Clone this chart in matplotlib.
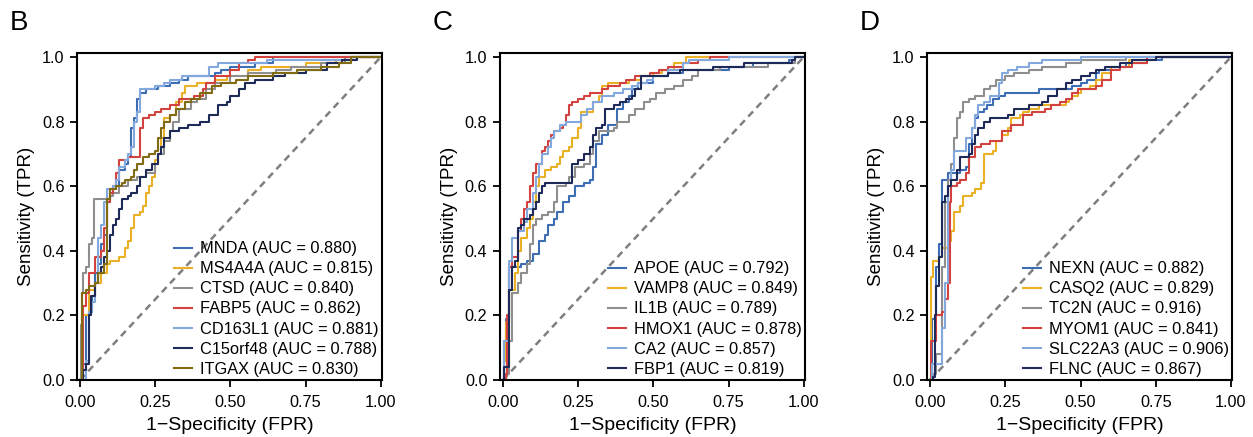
import matplotlib
matplotlib.use("Agg")
import matplotlib.pyplot as plt

plt.rcParams['font.family'] = ['Liberation Sans', 'DejaVu Sans']

# ROC staircases: (fpr, tpr) = level reached at that fpr
# ---- panel B ----
mnda = [(0, 0), (0.01, 0.05), (0.02, 0.2), (0.03, 0.21), (0.04, 0.26), (0.05, 0.33), (0.06, 0.36),
        (0.07, 0.42), (0.08, 0.45), (0.09, 0.55), (0.1, 0.59), (0.12, 0.6), (0.13, 0.65), (0.15, 0.67),
        (0.16, 0.69), (0.17, 0.78), (0.18, 0.81), (0.19, 0.87), (0.2, 0.89), (0.22, 0.9), (0.26, 0.91),
        (0.3, 0.92), (0.33, 0.93), (0.36, 0.94), (0.45, 0.95), (0.47, 0.96), (0.5, 0.97), (0.58, 0.98),
        (0.64, 1.0), (1.0, 1.0)]
ms4a4a = [(0, 0), (0.005, 0.2), (0.03, 0.28), (0.05, 0.3), (0.07, 0.33), (0.09, 0.36), (0.1, 0.37),
          (0.13, 0.38), (0.15, 0.41), (0.16, 0.43), (0.17, 0.47), (0.18, 0.51), (0.2, 0.52), (0.21, 0.54),
          (0.22, 0.58), (0.23, 0.6), (0.24, 0.63), (0.25, 0.68), (0.26, 0.7), (0.27, 0.75), (0.28, 0.81),
          (0.3, 0.82), (0.32, 0.86), (0.34, 0.89), (0.35, 0.91), (0.39, 0.92), (0.45, 0.93), (0.49, 0.94),
          (0.56, 0.96), (0.6, 0.97), (0.75, 0.98), (0.85, 0.99), (0.9, 1.0), (1.0, 1.0)]
ctsd = [(0, 0), (0.002, 0.17), (0.005, 0.27), (0.01, 0.33), (0.02, 0.35), (0.03, 0.42), (0.04, 0.44),
        (0.045, 0.56), (0.1, 0.57), (0.11, 0.58), (0.13, 0.6), (0.16, 0.62), (0.19, 0.63), (0.22, 0.64),
        (0.25, 0.67), (0.26, 0.7), (0.28, 0.74), (0.3, 0.77), (0.31, 0.8), (0.33, 0.84), (0.37, 0.86),
        (0.39, 0.87), (0.42, 0.9), (0.45, 0.92), (0.5, 0.94), (0.56, 0.95), (0.65, 0.96), (0.7, 0.97),
        (0.8, 0.98), (0.88, 1.0), (1.0, 1.0)]
fabp5 = [(0, 0), (0.01, 0.23), (0.02, 0.27), (0.03, 0.33), (0.05, 0.38), (0.07, 0.4), (0.08, 0.47),
         (0.09, 0.55), (0.1, 0.58), (0.11, 0.6), (0.12, 0.64), (0.13, 0.68), (0.16, 0.69), (0.2, 0.78),
         (0.21, 0.81), (0.23, 0.82), (0.25, 0.83), (0.27, 0.84), (0.3, 0.85), (0.33, 0.87), (0.38, 0.88),
         (0.41, 0.9), (0.42, 0.92), (0.45, 0.94), (0.5, 0.96), (0.53, 0.98), (0.56, 0.99), (0.58, 1.0),
         (1.0, 1.0)]
cd163l1 = [(0, 0), (0.02, 0.06), (0.03, 0.21), (0.04, 0.24), (0.05, 0.3), (0.06, 0.44), (0.07, 0.48),
           (0.08, 0.55), (0.09, 0.59), (0.11, 0.6), (0.12, 0.62), (0.13, 0.66), (0.15, 0.68), (0.16, 0.7),
           (0.17, 0.72), (0.18, 0.8), (0.19, 0.83), (0.2, 0.9), (0.25, 0.91), (0.28, 0.92), (0.3, 0.93),
           (0.34, 0.94), (0.43, 0.97), (0.46, 0.98), (0.62, 0.99), (0.9, 1.0), (1.0, 1.0)]
c15orf48 = [(0, 0), (0.01, 0.03), (0.02, 0.05), (0.03, 0.2), (0.035, 0.26), (0.05, 0.3), (0.06, 0.33),
            (0.07, 0.35), (0.08, 0.38), (0.09, 0.4), (0.1, 0.45), (0.11, 0.48), (0.12, 0.5), (0.13, 0.53),
            (0.14, 0.56), (0.16, 0.57), (0.17, 0.58), (0.19, 0.6), (0.2, 0.63), (0.22, 0.65), (0.24, 0.67),
            (0.26, 0.7), (0.27, 0.72), (0.28, 0.75), (0.3, 0.77), (0.33, 0.78), (0.36, 0.79), (0.4, 0.8),
            (0.43, 0.82), (0.46, 0.85), (0.49, 0.86), (0.5, 0.88), (0.53, 0.9), (0.55, 0.92), (0.58, 0.93),
            (0.64, 0.94), (0.68, 0.95), (0.75, 0.96), (0.82, 0.98), (0.87, 0.99), (0.92, 1.0), (1.0, 1.0)]
itgax = [(0, 0), (0.005, 0.27), (0.02, 0.28), (0.03, 0.29), (0.05, 0.3), (0.06, 0.33), (0.08, 0.36),
         (0.09, 0.56), (0.1, 0.59), (0.12, 0.6), (0.14, 0.61), (0.15, 0.62), (0.17, 0.63), (0.18, 0.65),
         (0.19, 0.67), (0.21, 0.69), (0.23, 0.7), (0.25, 0.71), (0.26, 0.75), (0.27, 0.78), (0.28, 0.8),
         (0.3, 0.82), (0.32, 0.84), (0.35, 0.86), (0.37, 0.87), (0.4, 0.89), (0.44, 0.91), (0.47, 0.92),
         (0.52, 0.93), (0.56, 0.94), (0.64, 0.95), (0.72, 0.96), (0.8, 0.97), (0.86, 0.98), (0.9, 1.0),
         (1.0, 1.0)]

# ---- panel C ----
apoe = [(0, 0), (0.002, 0.12), (0.01, 0.19), (0.02, 0.35), (0.06, 0.36), (0.08, 0.37), (0.1, 0.39),
        (0.12, 0.43), (0.14, 0.45), (0.15, 0.48), (0.17, 0.5), (0.18, 0.52), (0.2, 0.55), (0.22, 0.57),
        (0.24, 0.6), (0.27, 0.61), (0.29, 0.62), (0.3, 0.66), (0.31, 0.73), (0.33, 0.76), (0.35, 0.79),
        (0.38, 0.84), (0.4, 0.86), (0.42, 0.88), (0.43, 0.9), (0.45, 0.92), (0.5, 0.94), (0.55, 0.95),
        (0.6, 0.96), (0.75, 0.97), (0.83, 0.98), (0.95, 0.99), (0.97, 1.0), (1.0, 1.0)]
vamp8 = [(0, 0), (0.005, 0.06), (0.01, 0.18), (0.02, 0.28), (0.04, 0.33), (0.05, 0.4), (0.06, 0.44),
         (0.08, 0.47), (0.09, 0.5), (0.1, 0.55), (0.11, 0.6), (0.12, 0.63), (0.14, 0.65), (0.16, 0.66),
         (0.18, 0.67), (0.19, 0.69), (0.2, 0.71), (0.22, 0.72), (0.23, 0.75), (0.25, 0.78), (0.26, 0.83),
         (0.3, 0.86), (0.32, 0.88), (0.33, 0.91), (0.35, 0.92), (0.42, 0.93), (0.46, 0.94), (0.5, 0.95),
         (0.53, 0.96), (0.57, 0.98), (0.61, 1.0), (1.0, 1.0)]
il1b = [(0, 0), (0.01, 0.02), (0.02, 0.12), (0.03, 0.27), (0.05, 0.3), (0.06, 0.33), (0.08, 0.36),
        (0.09, 0.42), (0.1, 0.48), (0.11, 0.5), (0.13, 0.51), (0.15, 0.52), (0.17, 0.55), (0.18, 0.6),
        (0.21, 0.61), (0.22, 0.63), (0.24, 0.66), (0.27, 0.67), (0.29, 0.7), (0.3, 0.74), (0.32, 0.77),
        (0.37, 0.78), (0.38, 0.8), (0.42, 0.82), (0.44, 0.84), (0.47, 0.86), (0.49, 0.87), (0.51, 0.89),
        (0.54, 0.9), (0.57, 0.91), (0.6, 0.93), (0.63, 0.94), (0.65, 0.96), (0.72, 0.97), (0.88, 0.98),
        (0.97, 1.0), (1.0, 1.0)]
hmox1 = [(0, 0), (0.01, 0.02), (0.015, 0.2), (0.02, 0.35), (0.03, 0.38), (0.05, 0.46), (0.06, 0.5),
         (0.07, 0.53), (0.08, 0.55), (0.09, 0.6), (0.1, 0.64), (0.11, 0.67), (0.13, 0.71), (0.14, 0.72),
         (0.15, 0.74), (0.16, 0.76), (0.17, 0.77), (0.19, 0.78), (0.2, 0.79), (0.21, 0.82), (0.22, 0.85),
         (0.23, 0.86), (0.25, 0.87), (0.27, 0.88), (0.29, 0.89), (0.33, 0.9), (0.35, 0.91), (0.39, 0.92),
         (0.41, 0.93), (0.44, 0.94), (0.49, 0.95), (0.52, 0.96), (0.55, 0.97), (0.6, 0.98), (0.65, 0.99),
         (0.69, 1.0), (1.0, 1.0)]
ca2 = [(0, 0), (0.003, 0.12), (0.02, 0.37), (0.03, 0.44), (0.05, 0.46), (0.07, 0.49), (0.08, 0.53),
       (0.1, 0.58), (0.11, 0.63), (0.12, 0.67), (0.13, 0.7), (0.15, 0.72), (0.16, 0.75), (0.17, 0.77),
       (0.19, 0.79), (0.21, 0.8), (0.26, 0.82), (0.28, 0.84), (0.3, 0.86), (0.33, 0.88), (0.37, 0.89),
       (0.4, 0.9), (0.43, 0.91), (0.45, 0.92), (0.48, 0.93), (0.5, 0.94), (0.55, 0.96), (0.6, 0.98),
       (0.62, 0.99), (0.75, 1.0), (1.0, 1.0)]
fbp1 = [(0, 0), (0.005, 0.04), (0.02, 0.28), (0.03, 0.35), (0.04, 0.37), (0.05, 0.47), (0.06, 0.48),
        (0.07, 0.5), (0.09, 0.51), (0.1, 0.53), (0.11, 0.55), (0.12, 0.58), (0.13, 0.6), (0.14, 0.61),
        (0.23, 0.67), (0.25, 0.68), (0.27, 0.7), (0.29, 0.72), (0.3, 0.76), (0.31, 0.78), (0.33, 0.79),
        (0.34, 0.84), (0.37, 0.85), (0.39, 0.86), (0.41, 0.87), (0.43, 0.88), (0.44, 0.9), (0.46, 0.94),
        (0.55, 0.95), (0.59, 0.96), (0.7, 0.97), (0.8, 0.98), (0.96, 0.99), (0.97, 1.0), (1.0, 1.0)]

# ---- panel D ----
nexn = [(0, 0), (0.005, 0.19), (0.02, 0.35), (0.03, 0.42), (0.04, 0.62), (0.06, 0.64), (0.1, 0.65),
        (0.12, 0.66), (0.13, 0.73), (0.14, 0.78), (0.15, 0.81), (0.16, 0.83), (0.18, 0.84), (0.19, 0.85),
        (0.21, 0.87), (0.23, 0.88), (0.25, 0.89), (0.36, 0.9), (0.47, 0.91), (0.5, 0.92), (0.52, 0.93),
        (0.55, 0.95), (0.56, 0.96), (0.6, 0.97), (0.65, 0.98), (0.72, 0.99), (0.77, 1.0), (1.0, 1.0)]
casq2 = [(0, 0), (0.003, 0.32), (0.01, 0.37), (0.03, 0.38), (0.04, 0.41), (0.06, 0.43), (0.07, 0.46),
         (0.08, 0.52), (0.1, 0.54), (0.11, 0.57), (0.14, 0.58), (0.15, 0.59), (0.17, 0.61), (0.18, 0.7),
         (0.21, 0.71), (0.22, 0.74), (0.24, 0.76), (0.26, 0.78), (0.27, 0.81), (0.3, 0.82), (0.31, 0.83),
         (0.33, 0.84), (0.36, 0.85), (0.45, 0.86), (0.46, 0.87), (0.47, 0.88), (0.49, 0.89), (0.5, 0.9),
         (0.53, 0.91), (0.55, 0.93), (0.57, 0.95), (0.6, 0.97), (0.66, 0.99), (0.72, 1.0), (1.0, 1.0)]
tc2n = [(0, 0), (0.01, 0.02), (0.02, 0.08), (0.04, 0.35), (0.05, 0.55), (0.06, 0.62), (0.07, 0.67),
        (0.08, 0.75), (0.09, 0.81), (0.1, 0.83), (0.11, 0.86), (0.13, 0.87), (0.15, 0.88), (0.18, 0.9),
        (0.2, 0.91), (0.22, 0.93), (0.25, 0.94), (0.28, 0.95), (0.33, 0.96), (0.37, 0.97), (0.45, 0.98),
        (0.5, 0.99), (0.65, 1.0), (1.0, 1.0)]
myom1 = [(0, 0), (0.002, 0.12), (0.02, 0.2), (0.04, 0.21), (0.05, 0.25), (0.06, 0.3), (0.065, 0.55),
         (0.07, 0.6), (0.09, 0.61), (0.1, 0.62), (0.12, 0.64), (0.13, 0.69), (0.15, 0.72), (0.17, 0.73),
         (0.2, 0.74), (0.24, 0.77), (0.27, 0.79), (0.31, 0.82), (0.34, 0.83), (0.38, 0.84), (0.4, 0.85),
         (0.43, 0.86), (0.45, 0.87), (0.47, 0.89), (0.49, 0.9), (0.55, 0.91), (0.57, 0.93), (0.6, 0.96),
         (0.63, 0.97), (0.67, 0.98), (0.72, 1.0), (1.0, 1.0)]
slc22a3 = [(0, 0), (0.005, 0.05), (0.04, 0.16), (0.05, 0.3), (0.06, 0.6), (0.07, 0.65), (0.08, 0.71),
           (0.12, 0.75), (0.14, 0.78), (0.15, 0.82), (0.16, 0.85), (0.18, 0.86), (0.2, 0.88), (0.23, 0.92),
           (0.24, 0.95), (0.26, 0.96), (0.29, 0.97), (0.33, 0.98), (0.37, 0.99), (0.5, 1.0), (1.0, 1.0)]
flnc = [(0, 0), (0.01, 0.01), (0.015, 0.2), (0.02, 0.29), (0.03, 0.38), (0.04, 0.55), (0.05, 0.57),
        (0.06, 0.6), (0.07, 0.62), (0.09, 0.65), (0.1, 0.69), (0.13, 0.7), (0.14, 0.73), (0.15, 0.76),
        (0.16, 0.78), (0.18, 0.8), (0.2, 0.81), (0.26, 0.82), (0.28, 0.84), (0.33, 0.85), (0.37, 0.86),
        (0.39, 0.88), (0.42, 0.9), (0.45, 0.92), (0.47, 0.93), (0.5, 0.94), (0.53, 0.95), (0.55, 0.96),
        (0.58, 0.97), (0.63, 0.98), (0.67, 0.99), (0.75, 1.0), (1.0, 1.0)]

genes_b = ["MNDA", "MS4A4A", "CTSD", "FABP5", "CD163L1", "C15orf48", "ITGAX"]
auc_b = [0.880, 0.815, 0.840, 0.862, 0.881, 0.788, 0.830]
genes_c = ["APOE", "VAMP8", "IL1B", "HMOX1", "CA2", "FBP1"]
auc_c = [0.792, 0.849, 0.789, 0.878, 0.857, 0.819]
genes_d = ["NEXN", "CASQ2", "TC2N", "MYOM1", "SLC22A3", "FLNC"]
auc_d = [0.882, 0.829, 0.916, 0.841, 0.906, 0.867]

blue, gold, grey, red, lblue, navy, olive = ("#3D6DB5", "#EAB026", "#8E8E8E", "#D2423F",
                                             "#82A8DE", "#1E2A58", "#806A12")

panels = [
    ("B", genes_b, auc_b, [mnda, ms4a4a, ctsd, fabp5, cd163l1, c15orf48, itgax],
     [blue, gold, grey, red, lblue, navy, olive]),
    ("C", genes_c, auc_c, [apoe, vamp8, il1b, hmox1, ca2, fbp1],
     [blue, gold, grey, red, lblue, navy]),
    ("D", genes_d, auc_d, [nexn, casq2, tc2n, myom1, slc22a3, flnc],
     [blue, gold, grey, red, lblue, navy]),
]

fig = plt.figure(figsize=(12.53, 4.37), dpi=100)
lefts = [0.0615, 0.399, 0.740]
letter_x = [0.008, 0.345, 0.686]

for (letter, genes, aucs, curves, colors), left, lx in zip(panels, lefts, letter_x):
    ax = fig.add_axes([left, 0.1304, 0.2434, 0.748])
    ax.plot([0, 1], [0, 1], ls=(0, (2.8, 2.0)), color="#7F7F7F", lw=1.8, zorder=1)
    for g, a, pts, c in zip(genes, aucs, curves, colors):
        xs = [p[0] for p in pts]
        ys = [p[1] for p in pts]
        ax.plot(xs, ys, drawstyle="steps-post", color=c, lw=1.5,
                label=f"{g} (AUC = {a:.3f})", zorder=2)
    ax.set_xlim(-0.01, 1.004)
    ax.set_ylim(0, 1.012)
    ax.set_xticks([0, 0.25, 0.5, 0.75, 1.0])
    ax.set_xticklabels(["0.00", "0.25", "0.50", "0.75", "1.00"])
    ax.set_yticks([0, 0.2, 0.4, 0.6, 0.8, 1.0])
    ax.set_yticklabels(["0.0", "0.2", "0.4", "0.6", "0.8", "1.0"])
    for s in ax.spines.values():
        s.set_linewidth(1.5)
    ax.tick_params(direction="out", length=5, width=1.3, labelsize=11.7, pad=4, colors="black")
    ax.tick_params(axis="x", pad=5.5)
    ax.set_xlabel("1\u2212Specificity (FPR)", fontsize=14, labelpad=5)
    ax.set_ylabel("Sensitivity (TPR)", fontsize=13.5, labelpad=5)
    ax.legend(loc="lower right", bbox_to_anchor=(1.0, 0.0), frameon=False, fontsize=11.8,
              handlelength=1.1, handletextpad=0.5, labelspacing=0.31, borderpad=0.2,
              borderaxespad=0)
    fig.text(lx, 0.918, letter, fontsize=20, va="bottom", ha="left")

fig.savefig("out.png", dpi=100, facecolor="white")
